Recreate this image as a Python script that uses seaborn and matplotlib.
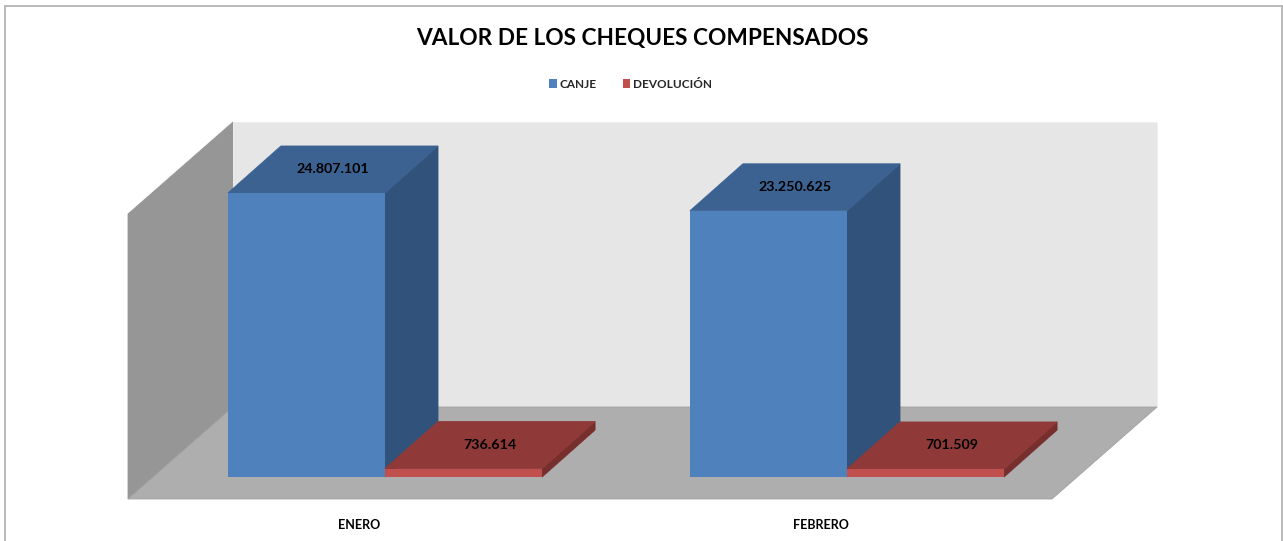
import matplotlib
matplotlib.use("Agg")
import matplotlib.pyplot as plt
from matplotlib.patches import Polygon, Rectangle
import pandas as pd
import seaborn as sns

# --- Datos ---
categorias = ["ENERO", "FEBRERO"]
canje = [24807101, 23250625]
devolucion = [736614, 701509]
series = ["CANJE", "DEVOLUCIÓN"]
titulo = "VALOR DE LOS CHEQUES COMPENSADOS"

# --- Colores (frente, arriba, lado) ---
colores = {
    "CANJE": ("#4F81BD", "#3C6292", "#31527A"),
    "DEVOLUCIÓN": ("#C0504D", "#8F3A38", "#772F2D"),
}

ANCHO, ALTO = 1283, 541
YMAX = 24894000
PX = 2 / 924      # unidades de categoria por pixel
PY = YMAX / 285   # unidades de valor por pixel
DX, DY = 53 * PX, 47 * PY  # profundidad de las barras

df = pd.DataFrame({
    "mes": categorias * 2,
    "valor": canje + devolucion,
    "serie": [series[0]] * 2 + [series[1]] * 2,
})

sns.set_theme(style="white")
plt.rcParams["font.family"] = ["Lato", "DejaVu Sans"]

fig = plt.figure(figsize=(ANCHO / 100, ALTO / 100), dpi=100)
ax = fig.add_axes([154 / ANCHO, (ALTO - 477) / ALTO, 924 / ANCHO, 285 / ALTO])
ax.patch.set_alpha(0)

sns.barplot(data=df, x="mes", y="valor", hue="serie", width=0.68, gap=0,
            palette={s: colores[s][0] for s in series}, saturation=1,
            edgecolor="none", ax=ax)

x0, x1 = -0.5, 1.5


def cara(puntos, color, z, borde=None):
    ax.add_patch(Polygon(puntos, closed=True, facecolor=color, edgecolor=borde or color,
                         linewidth=0.6, zorder=z, clip_on=False))


# paredes y piso
fx, fy = 26 * PX, 22 * PY   # borde frontal del piso respecto al plano de las barras
bx, by = 79 * PX, 70 * PY   # pared del fondo respecto al plano de las barras
cara([(x0 - fx, -fy), (x0 + bx, by), (x0 + bx, YMAX + by), (x0 - fx, YMAX - fy)], "#969696", 1)
cara([(x0 + bx, by), (x1 + bx, by), (x1 + bx, YMAX + by), (x0 + bx, YMAX + by)], "#E6E6E6", 1, "#EEEEEE")
cara([(x0 - fx, -fy), (x1 - fx, -fy), (x1 + bx, by), (x0 + bx, by)], "#AEAEAE", 1.5, "#A2A2A2")

# caras de profundidad de cada barra, a partir de las barras de seaborn
for j, cont in enumerate(ax.containers):
    frente, arriba, lado = colores[series[j]]
    for i, bar in enumerate(cont.patches):
        z = 3 + 2 * i + j
        x, w, h = bar.get_x(), bar.get_width(), bar.get_height()
        cara([(x + w, 0), (x + w + DX, DY), (x + w + DX, h + DY), (x + w, h)], lado, z)
        cara([(x, h), (x + w, h), (x + w + DX, h + DY), (x + DX, h + DY)], arriba, z)
        bar.set_zorder(z + 0.5)
        ax.text(x + (w + DX) / 2, h + DY / 2, f"{int(h):,}".replace(",", "."),
                ha="center", va="center", fontsize=10.3, fontweight="bold",
                color="black", zorder=20)

ax.set_xlim(x0, x1)
ax.set_ylim(0, YMAX)
ax.set_xlabel("")
ax.set_ylabel("")
ax.set_yticks([])
ax.set_xticks([i - fx for i in range(len(categorias))], categorias)
ax.tick_params(axis="x", length=0, pad=30, labelsize=9)
for t in ax.get_xticklabels():
    t.set_fontweight("bold")
    t.set_color("black")
sns.despine(ax=ax, left=True, bottom=True)

sns.move_legend(ax, "center", bbox_to_anchor=(630.5 / ANCHO, 1 - 84 / ALTO),
                bbox_transform=fig.transFigure, ncol=2, title=None, frameon=False,
                handlelength=0.6, handleheight=0.7, handletextpad=0.25,
                columnspacing=2.2, prop={"weight": "bold", "size": 8.5})

fig.text(642 / ANCHO, 1 - 38 / ALTO, titulo, ha="center", va="center",
         fontsize=16.3, fontweight="bold", color="black")

# marco del grafico
fig.add_artist(Rectangle((5 / ANCHO, -0.02), 1277 / ANCHO, 1.02 - 6 / ALTO, transform=fig.transFigure,
                         facecolor="none", edgecolor="#B4B4B4", linewidth=1.3))

fig.savefig("out.png", dpi=100)
plt.close(fig)
